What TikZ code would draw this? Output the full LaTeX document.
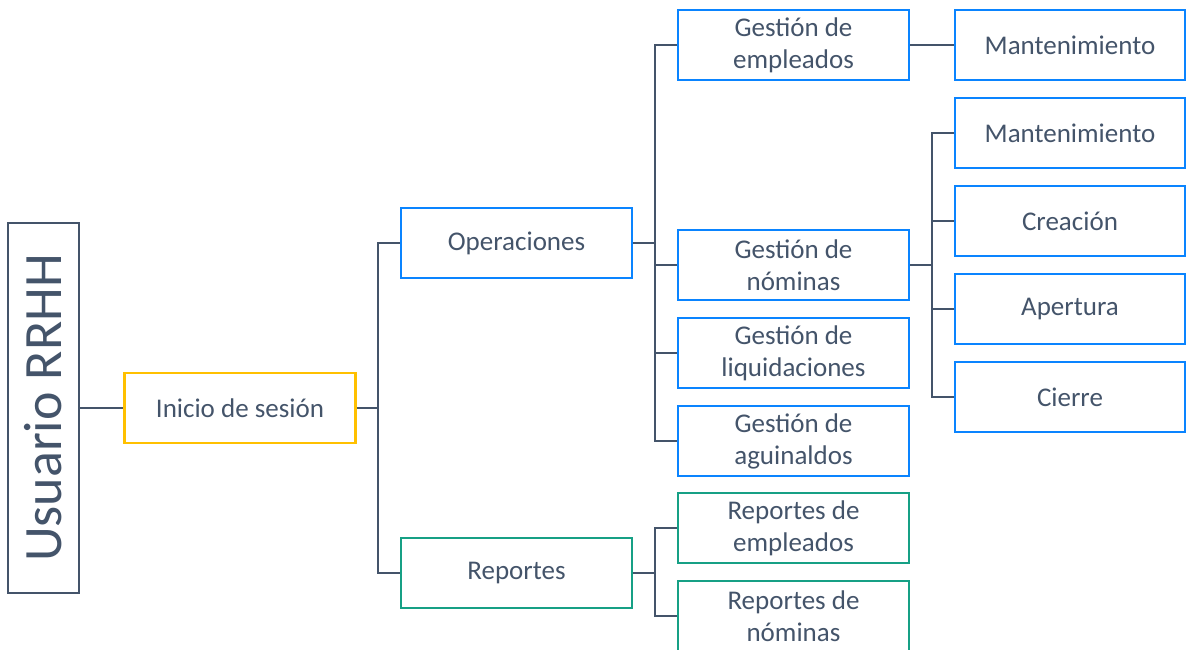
\documentclass[tikz,border=0pt]{standalone}
\usepackage{fontspec}
\setmainfont{Carlito}
\definecolor{slate}{HTML}{44546A}
\definecolor{bblue}{HTML}{0A84FF}
\definecolor{bgreen}{HTML}{16A085}
\definecolor{byellow}{HTML}{FFC000}
\begin{document}
\begin{tikzpicture}[x=1pt,y=-1pt,
  box/.style={draw=bblue, line width=2.5pt, minimum width=231pt, minimum height=70pt,
    inner sep=0pt, align=center, text=slate, font=\fontsize{27}{32}\selectfont},
  gbox/.style={box, draw=bgreen},
  ybox/.style={box, draw=byellow},
  conn/.style={draw=slate, line width=2.5pt}]
\useasboundingbox (0,0) rectangle (1186,650);
% column trunks
\coordinate (k1) at (378,0);
\coordinate (k2) at (655,0);
\coordinate (k3) at (932,0);
% nodes
\node[draw=slate, line width=2.5pt, minimum width=370pt, minimum height=71pt, inner sep=0pt,
  rotate=90, text=slate, font=\fontsize{54}{60}\selectfont] (usr) at (43.5,408) {Usuario RRHH};
\node[ybox] (ini) at (240,408) {Inicio de sesión};
\node[box] (ope) at (516.5,243) {Operaciones};
\node[gbox] (rep) at (516.5,573) {Reportes};
\node[box] (ge) at (793.5,45) {Gestión de\\empleados};
\node[box] (gn) at (793.5,265) {Gestión de\\nóminas};
\node[box] (gl) at (793.5,353) {Gestión de\\liquidaciones};
\node[box] (ga) at (793.5,441) {Gestión de\\aguinaldos};
\node[gbox] (re) at (793.5,528) {Reportes de\\empleados};
\node[gbox] (rn) at (793.5,616) {Reportes de\\nóminas};
\node[box, minimum width=230pt] (m1) at (1070,45) {Mantenimiento};
\node[box, minimum width=230pt] (m2) at (1070,133) {Mantenimiento};
\node[box, minimum width=230pt] (cr) at (1070,221) {Creación};
\node[box, minimum width=230pt] (ap) at (1070,309) {Apertura};
\node[box, minimum width=230pt] (ci) at (1070,397) {Cierre};
% connectors
\draw[conn] (usr.south) -- (ini.west);
\draw[conn] (ini.east) -- (ini.east -| k1);
\draw[conn] (ope.west) -- (ope.west -| k1) |- (rep.west);
\draw[conn] (ope.east) -- (ope.east -| k2);
\draw[conn] (ge.west) -- (ge.west -| k2) |- (ga.west);
\draw[conn] (gn.west) -- (gn.west -| k2);
\draw[conn] (gl.west) -- (gl.west -| k2);
\draw[conn] (rep.east) -- (rep.east -| k2);
\draw[conn] (re.west) -- (re.west -| k2) |- (rn.west);
\draw[conn] (ge.east) -- (m1.west);
\draw[conn] (gn.east) -- (gn.east -| k3);
\draw[conn] (m2.west) -- (m2.west -| k3) |- (ci.west);
\draw[conn] (cr.west) -- (cr.west -| k3);
\draw[conn] (ap.west) -- (ap.west -| k3);
\end{tikzpicture}
\end{document}
